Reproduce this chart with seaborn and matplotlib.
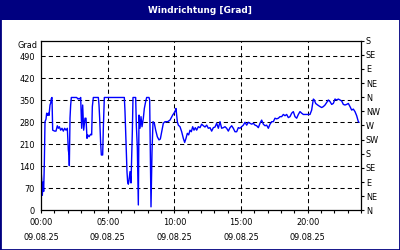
import matplotlib
matplotlib.use("Agg")
import matplotlib.pyplot as plt
import seaborn as sns
import pandas as pd
from matplotlib.patches import Rectangle

# ---- data (hours since 00:00 on 09.08.25, wind direction in degrees) ----
hours = [0.0, 0.05, 0.1, 0.15, 0.2, 0.25, 0.3, 0.375, 0.425, 0.475, 0.55, 0.6, 0.675, 0.725,
         0.775, 0.825, 0.875, 1.025, 1.125, 1.225, 1.3, 1.375, 1.475, 1.575, 1.675, 1.775,
         1.875, 1.975, 2.05, 2.1, 2.125, 2.175, 2.225, 2.275, 2.675, 2.775, 2.85, 2.925,
         2.975, 3.05, 3.125, 3.2, 3.3, 3.375, 3.45, 3.5, 3.6, 3.725, 3.8, 3.85, 3.925, 4.3,
         4.35, 4.4, 4.475, 4.525, 4.625, 4.675, 4.75,
         6.25, 6.3, 6.375, 6.45, 6.5, 6.55, 6.6, 6.675, 6.75, 6.85, 6.9, 7.1, 7.15, 7.225,
         7.3, 7.35, 7.425, 7.5, 7.575, 7.675, 7.75, 7.85, 7.925, 8.1, 8.15, 8.2, 8.25, 8.325,
         8.4, 8.5, 8.6, 8.725, 8.85, 8.95, 9.05, 9.175, 9.3, 9.5,
         9.675, 9.875, 10.05, 10.125, 10.225, 10.3, 10.425, 10.55, 10.675, 10.775, 10.875,
         10.975, 11.075, 11.175, 11.275, 11.375, 11.475, 11.575, 11.675, 11.8, 11.925, 12.05,
         12.175, 12.3, 12.425, 12.55, 12.675, 12.8, 12.925, 13.05, 13.175, 13.3, 13.425,
         13.55, 13.675, 13.8, 13.925, 14.05, 14.175, 14.3, 14.425, 14.55,
         14.675, 14.8, 14.925, 15.05, 15.175, 15.3, 15.425, 15.55, 15.675, 15.8, 15.925,
         16.05, 16.175, 16.3, 16.425, 16.55, 16.675, 16.8, 16.925, 17.05, 17.175, 17.3,
         17.425, 17.55, 17.675, 17.8, 17.925, 18.05, 18.175, 18.3, 18.425, 18.55, 18.675,
         18.8, 18.925,
         19.05, 19.175, 19.3, 19.425, 19.55, 19.675, 19.8, 20.175, 20.3, 20.425, 20.5, 20.6,
         20.75, 20.925, 21.05, 21.175, 21.3, 21.425, 21.55, 21.675, 21.8, 21.925, 22.05,
         22.175, 22.3, 22.425, 22.55, 22.675, 22.8, 22.925, 23.05, 23.175, 23.3, 23.425,
         23.55, 23.675, 23.8, 23.85]
direction = [130, 100, 48, 90, 60, 150, 282, 290, 309, 302, 309, 302, 335, 341,
             356, 359, 255, 252, 252, 269, 261, 266, 255, 261, 252, 261,
             255, 261, 192, 176, 142, 293, 335, 359, 359, 354, 356, 354,
             359, 261, 335, 255, 293, 293, 229, 240, 234, 242, 240, 330, 359, 359,
             335, 293, 213, 176, 176, 261, 359,
             359, 314, 214, 122, 90, 83, 95, 123, 87, 250, 359, 359, 271, 200,
             17, 303, 261, 298, 266, 293, 324, 346, 359, 359, 351, 186, 11, 186,
             282, 277, 255, 234, 224, 227, 250, 277, 282, 282,
             287, 303, 314, 324, 282, 271, 266, 250, 229, 216, 229,
             245, 240, 255, 250, 266, 255, 263, 255, 266, 263, 274,
             269, 265, 271, 261, 263, 252, 263, 265, 277, 261, 282,
             261, 263, 266, 261, 252, 263, 269, 261, 250,
             250, 263, 261, 266, 271, 280, 271, 280, 277, 274, 277,
             271, 269, 263, 277, 287, 274, 269, 271, 261, 274, 282,
             282, 293, 291, 293, 298, 298, 305, 301, 305, 295, 298,
             309, 314,
             298, 293, 305, 314, 309, 305, 305, 305, 319, 354, 351, 340,
             335, 330, 327, 330, 335, 343, 351, 346, 337, 340, 354,
             351, 354, 351, 348, 337, 335, 337, 340, 330, 319, 322,
             314, 301, 282, 280]

left_ticks = [0, 70, 140, 210, 280, 350, 420, 490]
right_ticks = [0, 45, 90, 135, 180, 225, 270, 315, 360, 405, 450, 495, 540]
right_labels = ["N", "NE", "E", "SE", "S", "SW", "W", "NW", "N", "NE", "E", "SE", "S"]
x_major = [0, 5, 10, 15, 20]
x_labels = ["00:00\n09.08.25", "05:00\n09.08.25", "10:00\n09.08.25",
            "15:00\n09.08.25", "20:00\n09.08.25"]
title = "Windrichtung [Grad]"
unit_label = "Grad"

NAVY = "#000080"
LINE = "#0000ff"

sns.set_style("white")
plt.rcParams["font.family"] = ["DejaVu Sans"]
plt.rcParams["text.color"] = "black"
plt.rcParams["xtick.color"] = "black"
plt.rcParams["ytick.color"] = "black"
plt.rcParams["xtick.labelcolor"] = "black"
plt.rcParams["ytick.labelcolor"] = "black"

W, H = 400, 250
fig = plt.figure(figsize=(4, 2.5), dpi=100)
fig.patch.set_facecolor("white")

ax = fig.add_axes([41 / W, (H - 210.3) / H, 320 / W, 169.7 / H])
df = pd.DataFrame({"h": hours, "deg": direction})
sns.lineplot(data=df, x="h", y="deg", ax=ax, color=LINE, linewidth=1.0, estimator=None, sort=False)

ax.set_xlim(0, 24)
ax.set_ylim(0, 540)
ax.set_xlabel("")
ax.set_ylabel("")

ax.set_xticks(x_major)
ax.set_xticklabels(x_labels, fontsize=5.9, linespacing=1.9)
ax.set_xticks(range(0, 25), minor=True)
ax.tick_params(axis="x", which="both", direction="out", length=2.2, width=0.8,
               color="black", labelcolor="black", pad=3, bottom=True)
ax.set_yticks(left_ticks)
ax.set_yticklabels([str(v) for v in left_ticks], fontsize=5.9)
ax.tick_params(axis="y", which="both", length=0, pad=4.5, left=True, labelcolor="black")

for v in left_ticks[1:]:
    ax.axhline(v, color="black", lw=0.75, ls=(0, (4, 3)), zorder=0)
for v in x_major[1:]:
    ax.axvline(v, color="black", lw=0.75, ls=(0, (4, 3)), zorder=0)

for s in ax.spines.values():
    s.set_color("black")
    s.set_linewidth(0.9)
    s.set_visible(True)

ax2 = ax.twinx()
ax2.set_ylim(0, 540)
ax2.set_yticks(right_ticks)
ax2.set_yticklabels(right_labels, fontsize=5.9)
ax2.tick_params(axis="y", direction="out", length=2.5, width=0.8, pad=1,
                color="black", labelcolor="black")
for s in ax2.spines.values():
    s.set_visible(False)
ax2.grid(False)

# title bar
fig.patches.append(Rectangle((0, 1 - 20 / H), 1, 20 / H, transform=fig.transFigure,
                             facecolor=NAVY, edgecolor="none", zorder=0))
fig.text(0.5, 1 - 10.5 / H, title, color="white", fontsize=6.4, fontweight="bold",
         ha="center", va="center")
fig.patches.append(Rectangle((0, 0), 1, 1, transform=fig.transFigure, fill=False,
                             edgecolor=NAVY, linewidth=2.0, zorder=5))
fig.text(37.5 / W, 1 - 45.5 / H, unit_label, fontsize=5.9, color="black",
         ha="right", va="center")

fig.savefig("out.png", dpi=100)
